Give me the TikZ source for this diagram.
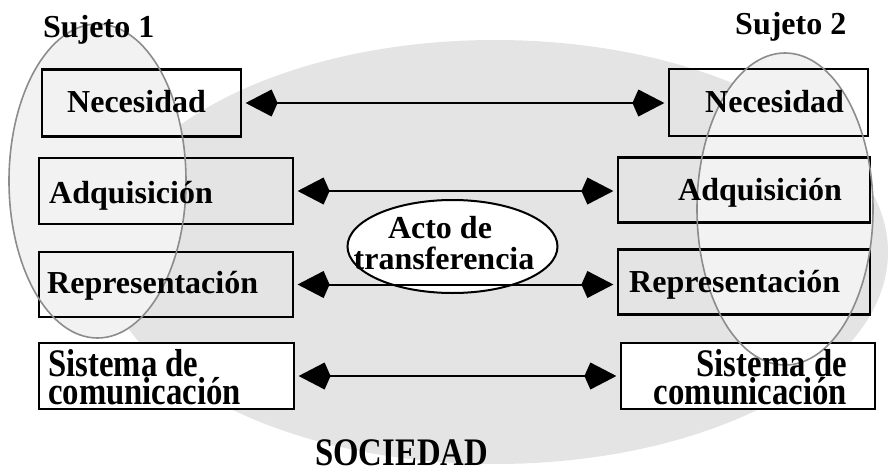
\documentclass[tikz,border=0pt]{standalone}
\usepackage{fontspec}
\setmainfont{Liberation Serif}
\newfontfamily\condfont{Liberation Serif}[FakeStretch=0.84]
\usetikzlibrary{arrows.meta,shapes.geometric}
\definecolor{soc}{HTML}{E4E4E4}
\definecolor{suj}{HTML}{F2F2F2}
\definecolor{sujline}{HTML}{8C8C8C}
\tikzset{
  boxnode/.style={draw=black, line width=2.2pt, rectangle, inner sep=0pt,
    minimum width=#1, minimum height=66pt},
  boxnode/.default=254pt,
  whitebox/.style={boxnode=#1, fill=white},
  whitebox/.default=254pt,
  lbl/.style={inner sep=0pt, font=\fontsize{32}{36}\selectfont\bfseries},
  cond/.style={inner sep=0pt, font=\condfont\fontsize{39}{42}\selectfont\bfseries},
  dbl/.style={line width=2pt, shorten <=3.5pt, shorten >=3.5pt,
    arrows={Kite[length=32pt,width=27pt,inset=6pt]-Kite[length=32pt,width=27pt,inset=6pt]}},
  sujfill/.style={fill=suj},
  sujdraw/.style={draw=sujline, line width=1.6pt}
}
\begin{document}
\begin{tikzpicture}[x=1pt,y=-1pt]
\useasboundingbox (0,0) rectangle (889,474);
% society
\fill[soc] (495,252) ellipse [x radius=393pt, y radius=212pt];
% subjects
\fill[sujfill] (97.5,181) ellipse [x radius=88.5pt, y radius=157pt];
\fill[sujfill] (785,209) ellipse [x radius=88pt, y radius=156pt];
% act of transfer
\node (acto) [ellipse, draw=black, line width=2pt, fill=white, inner sep=0pt,
  minimum width=210pt, minimum height=93pt] at (452.5,246.5) {};
% boxes
\node (L1) [boxnode=199pt, minimum height=67pt] at (141.5,103) {};
\node (R1) [boxnode=199pt, minimum height=67pt] at (768.5,102.5) {};
\node (L2) [boxnode] at (166,191) {};
\node (R2) [boxnode=252pt, minimum height=65pt] at (744,190) {};
\node (L3) [boxnode, minimum height=65pt] at (166,284.5) {};
\node (R3) [boxnode=252pt, minimum height=65pt] at (744,282) {};
\node (L4) [whitebox=255pt] at (166.5,376) {};
\node (R4) [whitebox=254pt] at (748,376) {};
% subject outlines
\draw[sujdraw] (97.5,181) ellipse [x radius=88.5pt, y radius=157pt];
\draw[sujdraw] (785,209) ellipse [x radius=88pt, y radius=156pt];
% connectors
\draw[dbl] (L1.east) -- (L1.east -| R1.west);
\draw[dbl] (L2.east) -- (L2.east -| R2.west);
\draw[dbl] (L3.east) -- (L3.east -| R3.west);
\draw[dbl] (L4.east) -- (L4.east -| R4.west);
% texts
\node (s1) [lbl, anchor=base west] at (43,37) {Sujeto 1};
\node (s2) [lbl, anchor=base west] at (735,34) {Sujeto 2};
\node (tL1) [lbl, anchor=base west] at (67,112) {Necesidad};
\node (tR1) [lbl, anchor=base west] at (705,112) {Necesidad};
\node (tL2) [lbl, anchor=base west] at (49,203) {Adquisición};
\node (tR2) [lbl, anchor=base west] at (678,200) {Adquisición};
\node (tL3) [lbl, anchor=base west] at (47,293) {Representación};
\node (tR3) [lbl, anchor=base west] at (629,292) {Representación};
\node (tL4a) [cond, anchor=base west] at (48,376) {Sistema de};
\node (tL4b) [cond, anchor=base west] at (48,404) {comunicación};
\node (tR4a) [cond, anchor=base east] at (847,376) {Sistema de};
\node (tR4b) [cond, anchor=base east] at (847,404) {comunicación};
\node (ta1) [lbl, anchor=base] at (440,238) {Acto de};
\node (ta2) [lbl, anchor=base] at (444,269) {transferencia};
\node (soc) [cond, anchor=base west] at (315,465) {SOCIEDAD};
\end{tikzpicture}
\end{document}
